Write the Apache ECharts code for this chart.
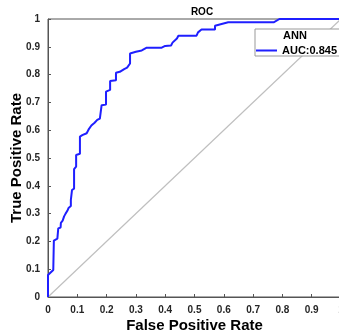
<!DOCTYPE html>
<html>
<head>
<meta charset="utf-8">
<script src="https://cdn.jsdelivr.net/npm/echarts@6/dist/echarts.min.js"></script>
<style>
html,body{margin:0;padding:0;background:#fff;}
#chart{width:339px;height:336px;}
</style>
</head>
<body>
<div id="chart"></div>
<script>
// ROC curve points: [FPR, TPR]
const rocFPR = [0,0,0.018,0.02,0.02,0.032,0.035,0.035,0.043,0.044,0.05,0.055,0.06,0.066,0.07,0.078,0.078,0.082,0.082,0.089,0.089,0.096,0.096,0.1,0.109,0.109,0.117,0.132,0.14,0.148,0.159,0.168,0.177,0.183,0.183,0.198,0.198,0.212,0.212,0.232,0.232,0.245,0.26,0.27,0.28,0.28,0.3,0.32,0.337,0.388,0.4,0.42,0.425,0.44,0.445,0.507,0.512,0.524,0.57,0.57,0.615,0.77,0.79,1];
const rocTPR = [0,0.079,0.097,0.1,0.203,0.21,0.21,0.247,0.25,0.267,0.275,0.29,0.3,0.31,0.32,0.327,0.349,0.35,0.385,0.39,0.46,0.469,0.511,0.515,0.515,0.577,0.582,0.589,0.605,0.617,0.627,0.637,0.642,0.649,0.69,0.692,0.739,0.745,0.777,0.78,0.807,0.81,0.82,0.825,0.84,0.876,0.882,0.887,0.897,0.897,0.903,0.905,0.915,0.93,0.94,0.94,0.952,0.962,0.962,0.976,0.988,0.988,1,1];
const diagX = [0, 1];
const diagY = [0, 1];
const titleText = 'ROC';
const legendTitle = 'ANN';
const seriesName = 'AUC:0.845';
const xName = 'False Positive Rate';
const yName = 'True Positive Rate';

const rocData = rocFPR.map((x, i) => [x, rocTPR[i]]);
const diagData = diagX.map((x, i) => [x, diagY[i]]);

const chart = echarts.init(document.getElementById('chart'), null, {renderer: 'canvas'});
const font = 'Liberation Sans, Arial, sans-serif';
const axisCommon = {
  type: 'value', min: 0, max: 1, interval: 0.1,
  axisLine: {show: true, lineStyle: {color: '#555', width: 1}},
  axisTick: {show: true, inside: true, length: 3, lineStyle: {color: '#555'}},
  splitLine: {show: false},
  axisLabel: {
    color: '#262626', fontWeight: 'bold', fontSize: 10, fontFamily: font,
    formatter: v => (Math.round(v * 10) / 10).toString()
  },
  nameLocation: 'middle',
  nameMoveOverlap: false,
  nameTextStyle: {color: '#000', fontWeight: 'bold', fontSize: 15, fontFamily: font}
};
chart.setOption({
  animation: false,
  title: {
    text: titleText, left: 197, top: 2, textAlign: 'center',
    textStyle: {fontSize: 10, fontWeight: 'bold', color: '#000', fontFamily: font}
  },
  grid: {left: 48, top: 19, width: 293, bottom: 39, show: true, borderColor: '#555', borderWidth: 1,
         backgroundColor: 'transparent', containLabel: false, outerBoundsMode: 'none'},
  legend: {
    data: [seriesName], left: 255, top: 29, width: 80,
    padding: [16, 3, 0, 1], itemWidth: 21, itemHeight: 2, itemGap: 3,
    icon: 'rect',
    borderColor: '#999', borderWidth: 1, backgroundColor: '#fff',
    textStyle: {fontSize: 11, fontWeight: 'bold', color: '#000', fontFamily: font}
  },
  graphic: [{
    type: 'text', left: 283, top: 30, z: 100,
    style: {text: legendTitle, font: 'bold 11px ' + font, fill: '#000'}
  }],
  xAxis: Object.assign({}, axisCommon, {name: xName, nameGap: 21}),
  yAxis: Object.assign({}, axisCommon, {name: yName, nameGap: 24}),
  series: [
    {
      name: 'diag', type: 'line', data: diagData, showSymbol: false, symbol: 'none',
      lineStyle: {color: '#bfbfbf', width: 1.2}, silent: true, z: 1
    },
    {
      name: seriesName, type: 'line', data: rocData, showSymbol: false, symbol: 'none',
      lineStyle: {color: '#1f1fff', width: 2}, itemStyle: {color: '#1f1fff'}, z: 3
    }
  ]
});
</script>
</body>
</html>
